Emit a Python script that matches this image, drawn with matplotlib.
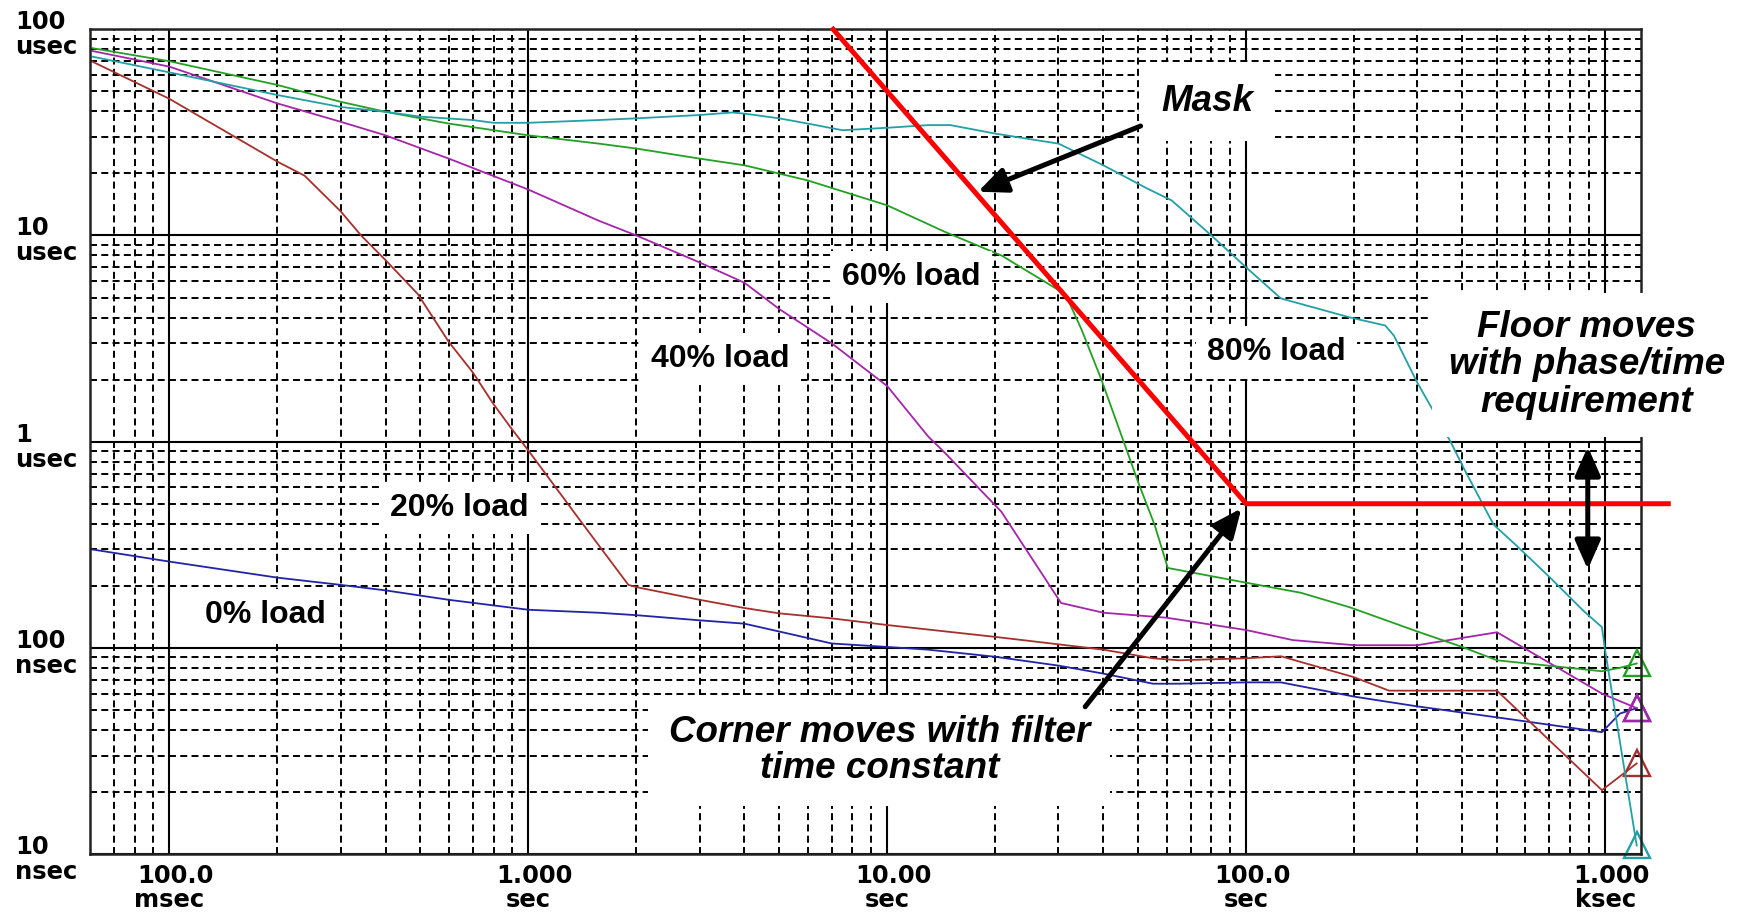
import numpy as np
import matplotlib
matplotlib.use("Agg")
import matplotlib.pyplot as plt
from matplotlib.ticker import LogLocator, NullFormatter

# TIE / MTIE style plot: averaging time tau in seconds, error in nanoseconds
##################################################
tau_0 = [0.061, 0.1, 0.2, 0.3, 0.4, 0.6, 1.0, 1.57, 2, 3, 4, 5, 7, 10, 13, 20,
         30, 40, 55, 65, 100, 125, 200, 300, 500, 980, 1100, 1225]
tie_0 = [300, 262, 219, 202, 190, 171, 153, 148, 144, 136, 131, 120, 105, 101,
         98, 90.5, 82, 75, 67, 67, 68, 68, 58, 52, 46, 39, 48, 51]

tau_20 = [0.061, 0.1, 0.2, 0.238, 0.3, 0.342, 0.4, 0.492, 0.6, 0.7, 0.8, 0.9,
          1.0, 1.38, 1.9, 2, 3, 4, 5, 7, 10, 20, 30, 40, 55, 65, 100, 125, 200,
          250, 500, 980, 1225]
tie_20 = [69700, 46000, 22800, 19500, 13100, 10000, 7600, 5200, 3050, 2170,
          1520, 1150, 906, 425, 202, 197, 171, 156, 147, 139, 129, 113, 104, 98,
          89, 87, 89, 91, 72, 62, 62, 20.4, 27.5]

tau_40 = [0.061, 0.1, 0.2, 0.3, 0.4, 0.6, 1.0, 1.57, 2, 3, 4, 5, 7, 10, 13,
          14.5, 20.8, 30.5, 40, 60, 100, 135, 200, 300, 500, 980, 1225]
tie_40 = [78500, 65900, 43700, 35600, 30600, 23600, 16700, 11800, 10000, 7400,
          5900, 4400, 3000, 1860, 1060, 880, 457, 165, 148, 140, 122, 109,
          103, 103, 119, 60, 51]

tau_60 = [0.061, 0.1, 0.2, 0.3, 0.4, 0.6, 1.0, 1.57, 2, 3, 4, 6, 10, 14.5, 20.8,
          30.2, 31.6, 34.8, 39.5, 45.3, 50, 55.6, 60.5, 100, 142, 195, 300, 400,
          500, 980, 1100, 1225]
tie_60 = [81000, 70000, 53700, 44500, 39800, 34900, 30600, 27900, 26400, 23600,
          21900, 18500, 14000, 10400, 8000, 5400, 5050, 3490, 2000, 1030, 637,
          394, 244, 207, 185, 157, 120, 101, 87, 77, 80, 84]

tau_80 = [0.061, 0.1, 0.2, 0.3, 0.4, 0.5, 0.7, 0.8, 1.0, 1.57, 2, 3, 3.7, 4, 5,
          6, 7.5, 10, 13, 15, 20, 26, 30, 40, 53, 62, 80, 100, 125, 195, 244,
          258, 299, 337, 371, 404, 489, 568, 703, 871, 980, 1000, 1225]
tie_80 = [73700, 61800, 48000, 42000, 39800, 37700, 36300, 35200, 35200, 36300,
          37000, 38400, 39500, 39000, 37000, 34900, 32400, 33300, 34300, 34300,
          31200, 29000, 27900, 21900, 16900, 14800, 10000, 7000, 4950, 4000, 3660,
          3270, 1950, 1350, 1000, 743, 396, 312, 219, 151, 126, 97.6, 11]

# mask: slope -2 down to the corner, then flat floor
mask_tau = [7.07, 100, 1500]
mask_tie = [100000, 500, 500]

series = [
    (tau_0, tie_0, '#2323a6'),
    (tau_20, tie_20, '#a5302c'),
    (tau_40, tie_40, '#a425a8'),
    (tau_60, tie_60, '#23a023'),
    (tau_80, tie_80, '#23a0a6'),
]

x_ticks = [0.1, 1, 10, 100, 1000]
x_nums = ['100.0', '1.000', '10.00', '100.0', '1.000']
x_units = ['msec', 'sec', 'sec', 'sec', 'ksec']
y_ticks = [10, 100, 1000, 10000, 100000]
y_nums = ['10', '100', '1', '10', '100']
y_units = ['nsec', 'nsec', 'usec', 'usec', 'usec']

# curve labels: text, tau, tie
load_labels = [
    ('0% load', 0.1845, 144),
    ('20% load', 0.643, 477),
    ('40% load', 3.43, 2510),
    ('60% load', 11.7, 6270),
    ('80% load', 121.7, 2710),
]

##################################################
fig = plt.figure(figsize=(17.42, 9.13), dpi=100)
ax = fig.add_axes([0.0517, 0.0646, 0.8903, 0.9033])
ax.set_xscale('log')
ax.set_yscale('log')
ax.set_xlim(0.0601, 1259)
ax.set_ylim(10, 1e5)

for axis in (ax.xaxis, ax.yaxis):
    axis.set_major_locator(LogLocator(base=10, numticks=20))
    axis.set_minor_locator(LogLocator(base=10, subs=np.arange(2, 10), numticks=20))
    axis.set_major_formatter(NullFormatter())
    axis.set_minor_formatter(NullFormatter())
ax.tick_params(which='both', length=0, labelbottom=False, labelleft=False)
ax.grid(which='major', color='black', lw=1.5, ls='-')
ax.grid(which='minor', color='black', lw=1.4, ls=(0, (3.6, 2.2)))
ax.set_axisbelow(True)
for s in ax.spines.values():
    s.set_linewidth(1.8)
    s.set_color('#222222')

# data curves with the hollow end triangles
for tau, tie, col in series:
    ax.plot(tau, tie, color=col, lw=1.3, zorder=2)
    ax.plot(tau[-1], tie[-1], marker='^', ms=19, mfc='none', mec=col, mew=1.7,
            clip_on=False, zorder=2)

ax.plot(mask_tau, mask_tie, color='#ff0000', lw=3.6, clip_on=False,
        solid_joinstyle='miter', zorder=3)

# tick labels, two lines each
lab_font = dict(family='DejaVu Sans', weight='bold', fontsize=17.5)
for t, n, u in zip(x_ticks, x_nums, x_units):
    ax.annotate(n, xy=(t, 0), xycoords=('data', 'axes fraction'),
                xytext=(6, -29), textcoords='offset pixels',
                ha='center', va='baseline', **lab_font)
    ax.annotate(u, xy=(t, 0), xycoords=('data', 'axes fraction'),
                xytext=(0, -53), textcoords='offset pixels',
                ha='center', va='baseline', **lab_font)
for t, n, u in zip(y_ticks, y_nums, y_units):
    ax.annotate(n, xy=(15, t), xycoords=('figure pixels', 'data'),
                ha='left', va='baseline', **lab_font)
    ax.annotate(u, xy=(15, t), xycoords=('figure pixels', 'data'),
                xytext=(0, -25), textcoords='offset pixels',
                ha='left', va='baseline', **lab_font)

# curve labels on white boxes
txt_font = dict(family=['Liberation Sans', 'DejaVu Sans'], weight='bold')
for s, x, y in load_labels:
    ax.text(x, y, s, ha='center', va='center', fontsize=23, zorder=4,
            bbox=dict(boxstyle='square,pad=0.35', fc='white', ec='none'), **txt_font)

ax.text(77.8, 44500, 'Mask', ha='center', va='center', fontsize=26.5,
        style='italic', zorder=4,
        bbox=dict(boxstyle='square,pad=0.6', fc='white', ec='none'), **txt_font)
ax.text(889, 2360, 'Floor moves\nwith phase/time\nrequirement', ha='center',
        va='center', fontsize=26.5, style='italic', linespacing=1.1, zorder=4,
        clip_on=False,
        bbox=dict(boxstyle='square,pad=0.45', fc='white', ec='none'), **txt_font)
ax.text(9.5, 31.8, 'Corner moves with filter\ntime constant', ha='center',
        va='center', fontsize=26.5, style='italic', linespacing=1.05, zorder=4,
        bbox=dict(boxstyle='square,pad=0.55', fc='white', ec='none'), **txt_font)

# arrows
arr = dict(arrowstyle='-|>,head_length=0.5,head_width=0.22', color='black',
           lw=3.6, mutation_scale=35, shrinkA=0, shrinkB=0)
ax.annotate('', xy=(17.9, 16300), xytext=(50.8, 33960), arrowprops=arr, zorder=5)
ax.annotate('', xy=(97, 475), xytext=(35.6, 51.8), arrowprops=arr, zorder=5)
arr2 = dict(arr, arrowstyle='<|-|>,head_length=0.5,head_width=0.22')
ax.annotate('', xy=(895, 946), xytext=(895, 240), arrowprops=arr2, zorder=5)

plt.savefig('out.png', dpi=100)
